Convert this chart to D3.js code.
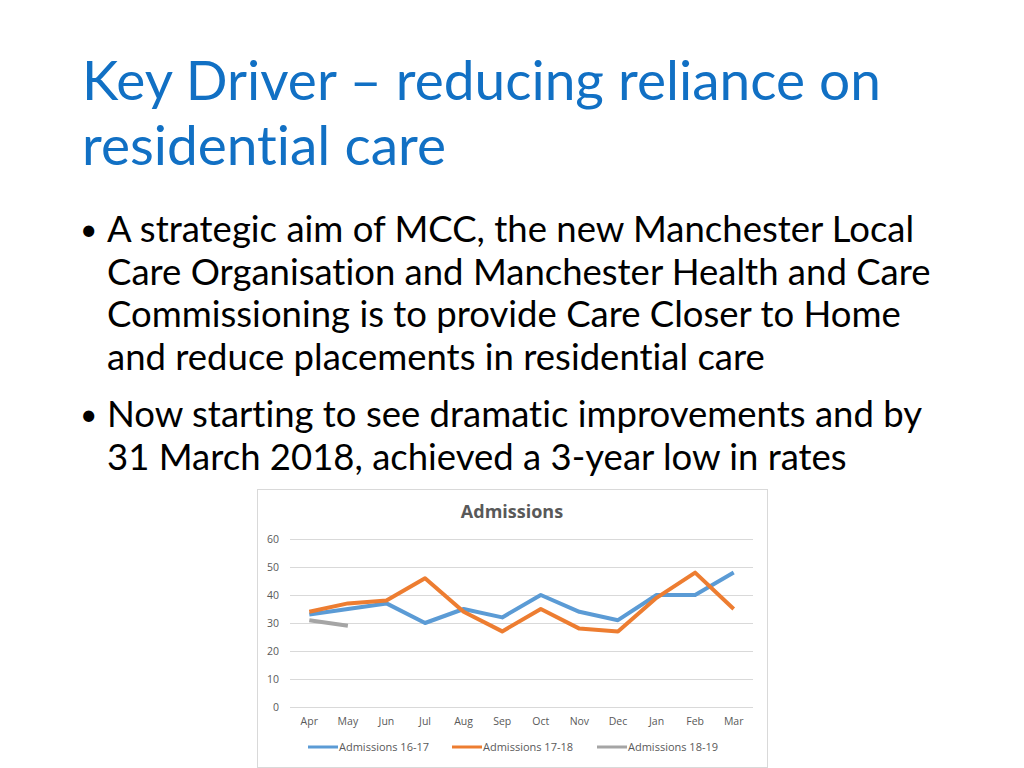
<!DOCTYPE html>
<html lang="en">
<head>
<meta charset="UTF-8">
<title>Key Driver – reducing reliance on residential care</title>
<script src="https://d3js.org/d3.v7.min.js"></script>
<style>
  body { margin: 0; background: #fff; }
  svg { display: block; }
  text { font-variant-ligatures: none; font-feature-settings: "liga" 0; }
</style>
</head>
<body>
<div id="slide"></div>
<script>
    const months = ["Apr", "May", "Jun", "Jul", "Aug", "Sep", "Oct", "Nov", "Dec", "Jan", "Feb", "Mar"];
    const admissions1617 = [33, 35, 37, 30, 35, 32, 40, 34, 31, 40, 40, 48];
    const admissions1718 = [34, 37, 38, 46, 34, 27, 35, 28, 27, 39, 48, 35];
    const admissions1819 = [31, 29];
    const seriesNames = ["Admissions 16-17", "Admissions 17-18", "Admissions 18-19"];
    const seriesColors = ["#5B9BD5", "#ED7D31", "#A5A5A5"];
    const yTicks = [0, 10, 20, 30, 40, 50, 60];

    const titleLines = ["Key Driver \u2013 reducing reliance on", "residential care"];
    const bullets = [
        ["A strategic aim of MCC, the new Manchester Local",
         "Care Organisation and Manchester Health and Care",
         "Commissioning is to provide Care Closer to Home",
         "and reduce placements in residential care"],
        ["Now starting to see dramatic improvements and by",
         "31 March 2018, achieved a 3-year low in rates"]
    ];

    const svg = d3.select("#slide").append("svg")
        .attr("width", 1024)
        .attr("height", 768);

    // slide title
    svg.selectAll(".title")
        .data(titleLines)
        .enter().append("text")
        .attr("class", "title")
        .attr("x", 82)
        .attr("y", (d, i) => 100 + i * 65)
        .attr("font-family", "Lato, sans-serif")
        .attr("font-size", 55)
        .attr("fill", "#1170C4")
        .text(d => d);

    // bullets
    let lineY = 242;
    bullets.forEach((lines, bi) => {
        svg.append("text")
            .attr("x", 80)
            .attr("y", lineY - 2)
            .attr("font-family", "Lato, sans-serif")
            .attr("font-size", 30)
            .attr("fill", "#000")
            .text("\u2022");
        lines.forEach(l => {
            svg.append("text")
                .attr("x", 107)
                .attr("y", lineY)
                .attr("font-family", "Lato, sans-serif")
                .attr("font-size", 36.5)
                .attr("fill", "#000")
                .text(l);
            lineY += 42.7;
        });
        lineY += 14;
    });

    // chart picture
    const chart = svg.append("g").attr("transform", "translate(257,489)");
    const cw = 510, ch = 278;

    chart.append("rect")
        .attr("x", 0.5).attr("y", 0.5)
        .attr("width", cw).attr("height", ch)
        .attr("fill", "#fff")
        .attr("stroke", "#D9D9D9");

    chart.append("text")
        .attr("x", 255)
        .attr("y", 29)
        .attr("text-anchor", "middle")
        .attr("font-family", "Open Sans, sans-serif")
        .attr("font-weight", "bold")
        .attr("font-size", 18)
        .attr("fill", "#595959")
        .text("Admissions");

    const plot = { left: 33, right: 496, top: 50, bottom: 218 };

    const x = d3.scaleBand()
        .domain(months)
        .range([plot.left, plot.right]);

    const y = d3.scaleLinear()
        .domain([0, 60])
        .range([plot.bottom, plot.top]);

    const yAxis = chart.append("g")
        .attr("transform", `translate(${plot.left},0)`)
        .call(d3.axisLeft(y).tickValues(yTicks).tickSize(-(plot.right - plot.left)).tickPadding(11));
    yAxis.select(".domain").remove();
    yAxis.selectAll("line").attr("stroke", "#D9D9D9");
    yAxis.selectAll("text")
        .attr("font-family", "Open Sans, sans-serif")
        .attr("font-size", 10.5)
        .attr("fill", "#595959");

    const xAxis = chart.append("g")
        .attr("transform", `translate(0,${plot.bottom})`)
        .call(d3.axisBottom(x).tickSize(0).tickPadding(11));
    xAxis.select(".domain").remove();
    xAxis.selectAll("text")
        .attr("font-family", "Open Sans, sans-serif")
        .attr("font-size", 10.5)
        .attr("fill", "#595959");

    const line = d3.line()
        .x((d, i) => x(months[i]) + x.bandwidth() / 2)
        .y(d => y(d));

    [admissions1617, admissions1718, admissions1819].forEach((data, i) => {
        chart.append("path")
            .datum(data)
            .attr("fill", "none")
            .attr("stroke", seriesColors[i])
            .attr("stroke-width", 4)
            .attr("stroke-linejoin", "round")
            .attr("d", line);
    });

    // legend
    const legendX = [51, 195, 340];
    const legend = chart.selectAll(".legend")
        .data(seriesNames)
        .enter().append("g")
        .attr("class", "legend")
        .attr("transform", (d, i) => `translate(${legendX[i]},258)`);
    legend.append("line")
        .attr("x1", 0).attr("x2", 30)
        .attr("y1", 0).attr("y2", 0)
        .attr("stroke", (d, i) => seriesColors[i])
        .attr("stroke-width", 3);
    legend.append("text")
        .attr("x", 31)
        .attr("y", 4)
        .attr("font-family", "Open Sans, sans-serif")
        .attr("font-size", 11)
        .attr("fill", "#595959")
        .text(d => d);
</script>
</body>
</html>
